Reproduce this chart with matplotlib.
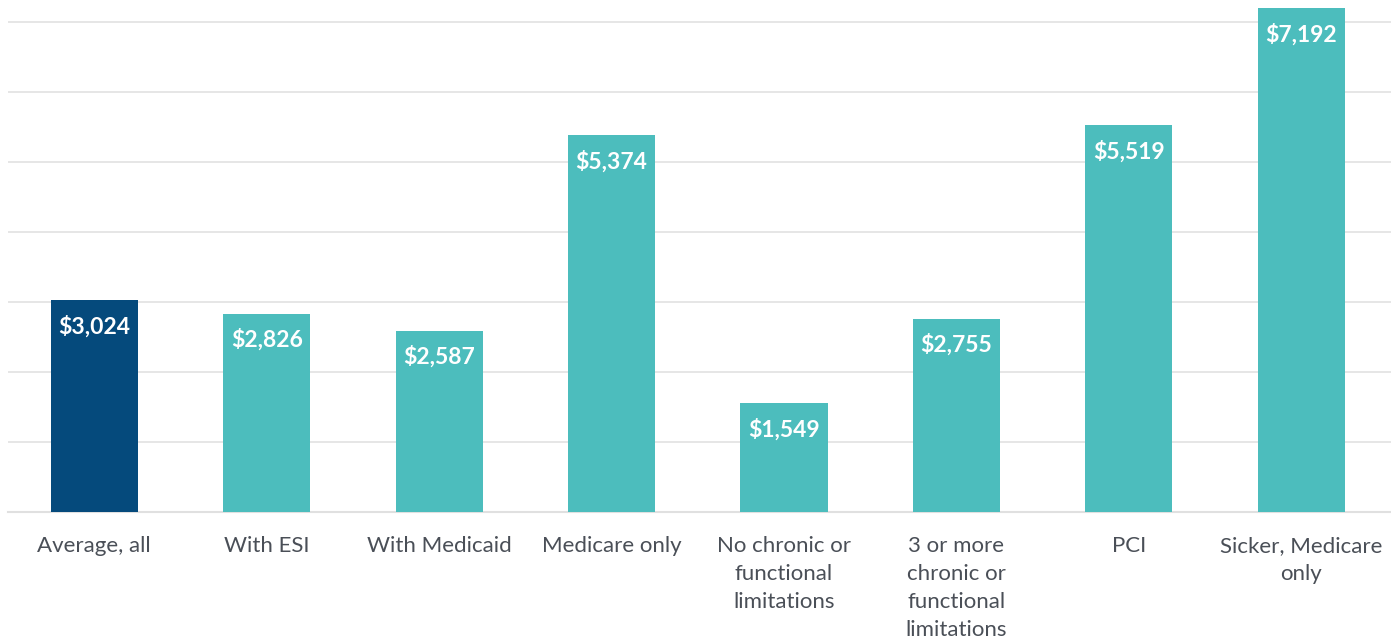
import matplotlib
matplotlib.use("Agg")
import matplotlib.pyplot as plt
from matplotlib.ticker import MultipleLocator

plt.rcParams["font.family"] = ["Lato", "DejaVu Sans"]

categories = [
    "Average, all",
    "With ESI",
    "With Medicaid",
    "Medicare only",
    "No chronic or\nfunctional\nlimitations",
    "3 or more\nchronic or\nfunctional\nlimitations",
    "PCI",
    "Sicker, Medicare\nonly",
]
spending = [3024, 2826, 2587, 5374, 1549, 2755, 5519, 7192]

NAVY = "#054a7c"
TEAL = "#4cbdbd"
colors = [NAVY] + [TEAL] * (len(spending) - 1)

fig = plt.figure(figsize=(13.91, 6.41), dpi=100)
ax = fig.add_axes([8 / 1391, 1 - 512 / 641, 1383 / 1391, 512 / 641])

x = range(len(categories))
bars = ax.bar(x, spending, width=0.505, color=colors, zorder=3)

# dollar labels sit just inside the top of each bar
for bar, val in zip(bars, spending):
    ax.annotate(f"${val:,}", (bar.get_x() + bar.get_width() / 2, val),
                xytext=(0, -26), textcoords="offset pixels",
                ha="center", va="center", color="white",
                fontsize=16.5, fontweight="bold", zorder=4)

ax.set_xlim(-0.5, 7.52)
ax.set_ylim(0, 7307)
ax.yaxis.set_major_locator(MultipleLocator(1000))
ax.grid(axis="y", color="#e4e4e4", linewidth=1.3, zorder=0)
ax.set_yticklabels([])
ax.tick_params(axis="y", length=0)
ax.tick_params(axis="x", length=0, pad=17.5)
ax.set_xticks(list(x))
ax.set_xticklabels(categories, fontsize=16, color="#4a4f57", linespacing=1.5, va="top")

for side in ["top", "right", "left"]:
    ax.spines[side].set_visible(False)
ax.spines["bottom"].set_color("#e0e0e0")
ax.spines["bottom"].set_linewidth(1.5)

fig.savefig("out.png", dpi=100)
